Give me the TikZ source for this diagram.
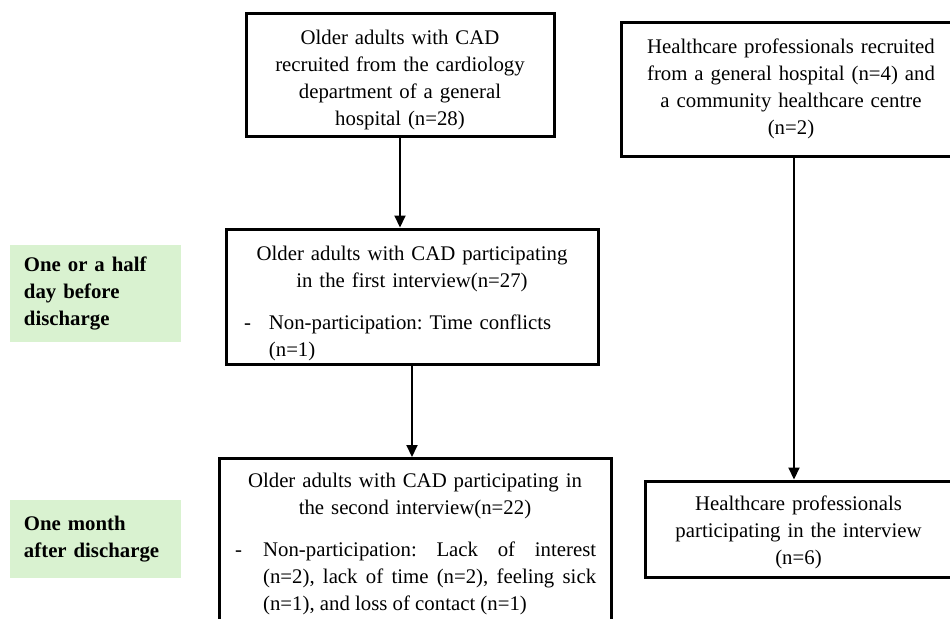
\documentclass[tikz,border=0pt]{standalone}
\usepackage{fontspec}
\setmainfont{Liberation Serif}
\usetikzlibrary{arrows.meta,calc}
\definecolor{lblgreen}{RGB}{217,242,208}
\newcommand\padtop[1]{\rule{0pt}{\dimexpr7.3pt+#1\relax}}
\frenchspacing
\begin{document}
\begin{tikzpicture}[x=0.5pt,y=-0.5pt,
  box/.style={draw, line width=1.5pt, inner sep=0pt, align=center,
    font=\fontsize{10.4}{13.5}\selectfont\frenchspacing},
  lbl/.style={fill=lblgreen, inner xsep=7pt, inner ysep=0pt, align=left,
    text width=71.5pt, minimum width=85.5pt, font=\fontsize{10.4}{13.5}\selectfont\bfseries},
  arr/.style={line width=1pt, -{Triangle[length=6pt,width=5.5pt]}}]

\path[use as bounding box, fill=white] (0,0) rectangle (950,618);
\clip (0,0) rectangle (950,618);

% left column
\node[box, minimum width=154pt, minimum height=61.5pt, text width=150pt] (A) at (400,74.5)
  {\padtop{5.5pt}Older adults with CAD\\recruited from the cardiology\\department of a general\\hospital (n=28)};

\node[box, minimum width=186pt, minimum height=67.5pt, text width=172pt] (B) at (412,296.5)
  {\padtop{6.5pt}Older adults with CAD participating\\in the first interview(n=27)\\[7.5pt]
   \makebox[170pt][l]{\hspace*{1pt}-\hspace*{9pt}\parbox[t]{156pt}{Non-participation: Time conflicts\\(n=1)}}};

\node[box, anchor=north, minimum width=196pt, minimum height=85.5pt, text width=186pt] (C) at (415,457)
  {\makebox[176pt]{Older adults with CAD participating in}\\the second interview(n=22)\\[7.5pt]
   \makebox[182pt][l]{\hspace*{1pt}-\hspace*{10.6pt}\parbox[t]{166.5pt}{\spaceskip=0pt\xspaceskip=0pt
   \makebox[166.5pt][s]{Non-participation: Lack of interest}\\
   \makebox[166.5pt][s]{(n=2), lack of time (n=2), feeling sick}\\(n=1), and loss of contact (n=1)}}};

% right column
\node[box, minimum width=170pt, minimum height=67pt, text width=160pt] (D) at (791,89)
  {Healthcare professionals recruited\\from a general hospital (n=4) and\\a community healthcare centre\\(n=2)};

\node[box, minimum width=153.5pt, minimum height=48pt, text width=150pt] (E) at (798.5,529)
  {\padtop{3pt}Healthcare professionals\\participating in the interview\\(n=6)};

% time labels
\node[lbl, minimum height=48.5pt] (L1) at (95.5,293.5) {One or a half\\day before\\discharge};
\node[lbl, minimum height=39pt] (L2) at (95.5,539) {One month\\after discharge};

% connectors
\draw[arr] (A.south) -- (A.south |- B.north);
\draw[arr] (B.south) -- (B.south |- C.north);
\coordinate (d1) at ([xshift=1.5pt]D.south);
\draw[arr] (d1) -- (d1 |- E.north);
\end{tikzpicture}
\end{document}
